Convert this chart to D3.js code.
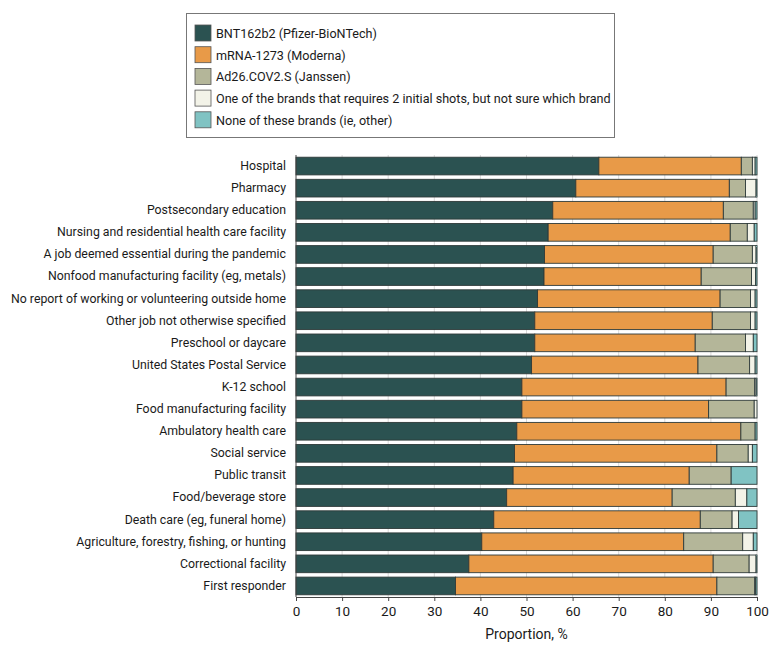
<!DOCTYPE html>
<html><head><meta charset="utf-8">
<script src="https://cdn.jsdelivr.net/npm/d3@7"></script>
<style>
body{margin:0;background:#fff;}
text{font-family:Roboto,"Noto Sans",sans-serif;fill:#1a1a1a;}
</style></head>
<body><svg id="chart" width="780" height="652"></svg>
<script>
const categories = ["Hospital","Pharmacy","Postsecondary education","Nursing and residential health care facility","A job deemed essential during the pandemic","Nonfood manufacturing facility (eg, metals)","No report of working or volunteering outside home","Other job not otherwise specified","Preschool or daycare","United States Postal Service","K-12 school","Food manufacturing facility","Ambulatory health care","Social service","Public transit","Food/beverage store","Death care (eg, funeral home)","Agriculture, forestry, fishing, or hunting","Correctional facility","First responder"];
const seriesNames = ["BNT162b2 (Pfizer-BioNTech)","mRNA-1273 (Moderna)","Ad26.COV2.S (Janssen)","One of the brands that requires 2 initial shots, but not sure which brand","None of these brands (ie, other)"];
const pfizer  = [65.7,60.7,55.7,54.7,53.9,53.8,52.4,51.8,51.8,51.1,49.0,49.0,47.9,47.4,47.1,45.7,42.9,40.3,37.5,34.6];
const moderna = [30.9,33.3,37.0,39.5,36.6,34.1,39.6,38.5,34.8,36.1,44.3,40.5,48.6,43.9,38.2,35.9,44.8,43.8,53.0,56.7];
const janssen = [2.4,3.5,6.5,3.7,8.5,10.9,6.6,8.3,10.9,11.2,6.2,9.9,3.1,6.8,9.1,13.7,6.9,12.8,7.8,8.2];
const unsure  = [0.6,2.3,0.4,1.5,0.8,0.9,1.0,1.0,1.7,1.2,0.3,0.6,0.0,0.9,0.0,2.5,1.4,2.3,1.5,0.2];
const other   = [0.4,0.2,0.4,0.6,0.2,0.3,0.4,0.4,0.8,0.4,0.2,0.0,0.4,1.0,5.6,2.2,4.0,0.8,0.2,0.3];
const xTicks = [0,10,20,30,40,50,60,70,80,90,100];
const colors = ["#2b5251","#e89a48","#b4b699","#f3f3e8","#80c3c3"];

const svg = d3.select("#chart");
const margin = {left:296, right:23, top:155, bottom:55};
const W = 780, H = 652;
const x = d3.scaleLinear().domain([0,100]).range([margin.left, W-margin.right]);
const y = d3.scaleBand().domain(categories).range([margin.top, H-margin.bottom]).paddingInner(0.2).paddingOuter(0.1);

const table = categories.map((c,i)=>({cat:c, s0:pfizer[i], s1:moderna[i], s2:janssen[i], s3:unsure[i], s4:other[i]}));
const keys = ["s0","s1","s2","s3","s4"];
const stacked = d3.stack().keys(keys)(table);

// gridlines
svg.append("g").selectAll("line").data(xTicks.slice(1)).join("line")
  .attr("x1",d=>x(d)).attr("x2",d=>x(d))
  .attr("y1",margin.top).attr("y2",H-margin.bottom)
  .attr("stroke","#d9d9d9").attr("stroke-width",1);

// bars
svg.append("g").selectAll("g").data(stacked).join("g")
  .attr("fill",(d,i)=>colors[i])
  .selectAll("rect").data(d=>d).join("rect")
  .attr("x",d=>x(d[0]))
  .attr("y",d=>y(d.data.cat))
  .attr("width",d=>Math.max(0,x(Math.min(100,d[1]))-x(d[0])))
  .attr("height",y.bandwidth())
  .attr("stroke","#2e3a39").attr("stroke-width",0.9);

// x axis
const xAxis = svg.append("g").attr("transform",`translate(0,${H-margin.bottom})`)
  .call(d3.axisBottom(x).tickValues(xTicks).tickSize(4).tickPadding(5));
xAxis.select(".domain").attr("stroke","#444");
xAxis.selectAll(".tick line").attr("stroke","#444");
xAxis.selectAll("text").attr("font-size",13.5).style("font-family","Roboto, sans-serif").attr("fill","#1a1a1a");

// y axis
const yAxis = svg.append("g").attr("transform",`translate(${margin.left},0)`)
  .call(d3.axisLeft(y).tickSize(0).tickPadding(10));
yAxis.select(".domain").attr("stroke","#444").attr("d",`M0,${margin.top}V${H-margin.bottom}`);
yAxis.selectAll("text").attr("font-size",12.3).style("font-family","Roboto, sans-serif").attr("fill","#1a1a1a");

svg.append("text").attr("x",x(50)).attr("y",639).attr("text-anchor","middle")
  .attr("font-size",14).text("Proportion, %");

// legend
const lg = svg.append("g");
lg.append("rect").attr("x",186.5).attr("y",13.5).attr("width",428).attr("height",124)
  .attr("fill","#fff").attr("stroke","#777").attr("stroke-width",1);
const items = lg.selectAll("g").data(seriesNames).join("g")
  .attr("transform",(d,i)=>`translate(195,${25+i*21.7})`);
items.append("rect").attr("width",16).attr("height",16)
  .attr("fill",(d,i)=>colors[i]).attr("stroke","#555").attr("stroke-width",0.8);
items.append("text").attr("x",21).attr("y",13).attr("font-size",12.6).text(d=>d);
</script></body></html>
